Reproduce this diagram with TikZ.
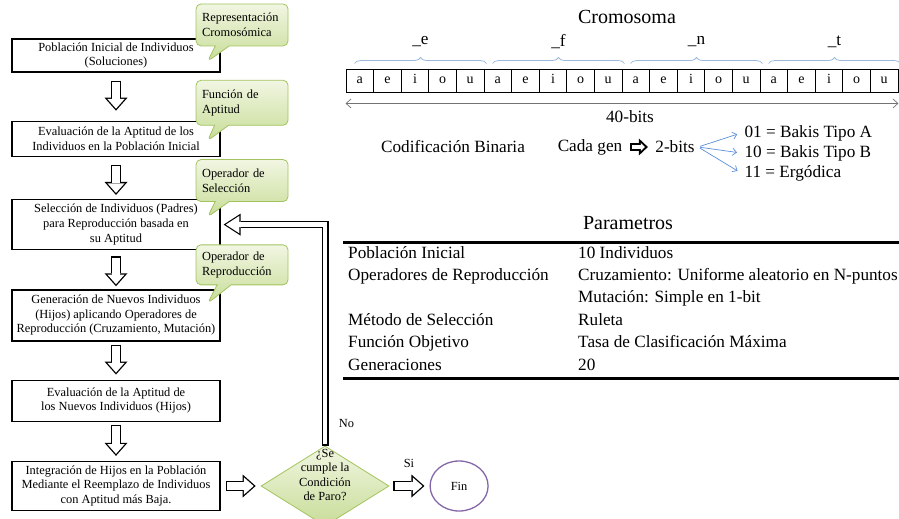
\documentclass[tikz,border=0pt]{standalone}
\usepackage{fontspec}
\setmainfont{Liberation Serif}
\usetikzlibrary{positioning,calc,arrows.meta,shapes.geometric,shapes.callouts,decorations.pathreplacing}

\definecolor{notedraw}{HTML}{A3C35F}
\definecolor{notetop}{HTML}{F1F6E2}
\definecolor{notebot}{HTML}{C8DD98}
\definecolor{bracecol}{HTML}{9CB8DB}
\definecolor{fincol}{HTML}{8566A8}
\definecolor{fancol}{HTML}{5A8ED8}

\newcommand{\smallfnt}{\fontsize{12.4}{14.6}\selectfont}
\newcommand{\midfnt}{\fontsize{17.2}{20}\selectfont}
\newcommand{\bigfnt}{\fontsize{20}{24}\selectfont}
\newcommand{\cellfnt}{\fontsize{14}{16}\selectfont}

\begin{document}
\begin{tikzpicture}[x=1pt,y=1pt,node distance=40pt,
        proc/.style={draw,line width=1.3pt,minimum width=208pt,inner sep=2pt,align=center,font=\smallfnt},
        note/.style={rectangle callout,draw=notedraw,line width=0.8pt,top color=notetop,bottom color=notebot,
          rounded corners=5pt,text width=80pt,inner sep=6pt,minimum height=42pt,align=left,font=\smallfnt,
          callout pointer width=14pt},
        cond/.style={diamond,draw=notedraw,line width=0.8pt,top color=notetop,bottom color=notebot,
          minimum width=128pt,minimum height=80pt,inner sep=0pt},
        fin/.style={ellipse,draw=fincol,line width=1.3pt,minimum width=58pt,minimum height=50pt,inner sep=0pt,font=\smallfnt},
        blk/.style={line width=10pt,-{Triangle[length=13pt,width=23pt,line width=0pt]},
          postaction={draw=white,line width=7.4pt,shorten <=1.3pt,shorten >=1.96pt,
            -{Triangle[length=9.74pt,width=17.2pt,line width=0pt]}}},
        fb/.style={line width=7pt,-{Triangle[length=17pt,width=22pt,line width=0pt]},
          postaction={draw=white,line width=4.6pt,shorten <=1.2pt,shorten >=2.2pt,
            -{Triangle[length=13.6pt,width=17.6pt,line width=0pt]}}},
        blksm/.style={line width=8pt,-{Triangle[length=9pt,width=17pt,line width=0pt]},
          postaction={draw=white,line width=4pt,shorten <=2pt,shorten >=2.9pt,
            -{Triangle[length=4.1pt,width=7.7pt,line width=0pt]}}},
        cell/.style={draw,line width=0.9pt,minimum width=27.6pt,minimum height=23pt,inner sep=0pt,
          text height=6.5pt,text depth=0pt,font=\cellfnt},
        brc/.style={draw=bracecol,line width=0.8pt,decorate,decoration={brace,amplitude=6pt,raise=5pt}},
        dim/.style={draw=black!55,line width=0.7pt,{Straight Barb[length=5pt,width=9pt]}-{Straight Barb[length=5pt,width=9pt]}},
        fan/.style={draw=fancol,line width=0.7pt,-{Straight Barb[length=4pt,width=7pt]},shorten <=2pt,shorten >=4pt},
        row/.style={anchor=base west,inner sep=0pt,font=\midfnt}]

        \useasboundingbox (0,0) rectangle (899,-519);

        % flujo del algoritmo
        \node[proc,minimum height=33pt] (b1) at (116,-55.5) {Población Inicial de Individuos\\(Soluciones)};
        \node[proc,minimum height=35pt] (b2) [below=48pt of b1] {Evaluación de la Aptitud de los\\Individuos en la Población Inicial};
        \node[proc,minimum height=50pt] (b3) [below=42pt of b2] {Selección de Individuos (Padres)\\para Reproducción basada en\\su Aptitud};
        \node[proc,minimum height=51pt] (b4) [below=39pt of b3] {Generación de Nuevos Individuos\\(Hijos) aplicando Operadores de\\Reproducción (Cruzamiento, Mutación)};
        \node[proc,minimum height=41pt] (b5) [below=38pt of b4] {Evaluación de la Aptitud de\\los Nuevos Individuos (Hijos)};
        \node[proc,minimum height=49pt] (b6) [below=39pt of b5] {Integración de Hijos en la Población\\Mediante el Reemplazo de Individuos\\con Aptitud más Baja.};

        \node[cond] (dia) [right=40pt of b6] {};
        \node[font=\smallfnt,align=center] (q) at (dia.center) [yshift=11pt] {¿Se\\cumple la\\Condición\\de Paro?};
        \node[fin] (fn) [right=40pt of dia] {Fin};

        % notas
        \node[note,anchor=south west,callout absolute pointer={($(b1.north east)+(-13,-23)$)}] (n1)
          at ($(b1.north east)+(-25,-8)$) {Representación\\Cromosómica};
        \node[note,anchor=south west,minimum height=45pt,callout absolute pointer={($(b2.north east)+(-13,-20)$)}] (n2)
          at ($(b2.north east)+(-25,-5)$) {Función de\\Aptitud};
        \node[note,anchor=south west,callout absolute pointer={($(b3.north east)+(-13,-18)$)}] (n3)
          at ($(b3.north east)+(-25,-3)$) {Operador de\\Selección};
        \node[note,anchor=south west,minimum height=40pt,callout absolute pointer={($(b4.north east)+(-13,-14)$)}] (n4)
          at ($(b4.north east)+(-25,4)$) {Operador de\\Reproducción};

        \draw[blk] ($(b1.south)+(0,-8)$) -- ($(b2.north)+(0,10)$);
        \draw[blk] ($(b2.south)+(0,-8)$) -- ($(b3.north)+(0,4)$);
        \draw[blk] ($(b3.south)+(0,-6)$) -- ($(b4.north)+(0,3)$);
        \draw[blk] ($(b4.south)+(0,-3)$) -- ($(b5.north)+(0,5)$);
        \draw[blk] ($(b5.south)+(0,-3)$) -- ($(b6.north)+(0,5)$);
        \draw[blk] ($(b6.east)+(5,0)$) -- ($(dia.west)+(-5,0)$);
        \draw[blk] ($(dia.east)+(4,0)$) -- node[above=10pt,font=\smallfnt] {Si} ($(fn.west)+(-5,0)$);
        \draw[fb] (dia.north) |- node[pos=0.05,right=7pt,font=\smallfnt] {No} ($(b3.east)+(3,0)$);

        % cromosoma
        \node[font=\bigfnt] (crom) at (627,-17) {Cromosoma};
        \foreach \l [count=\i from 0] in {a,e,i,o,u,a,e,i,o,u,a,e,i,o,u,a,e,i,o,u}
          \node[cell] (c\i) at (359.8+27.6*\i,-80.5) {\l};
        \foreach \g/\lab in {0/e,5/f,10/n,15/t} {
          \pgfmathtruncatemacro\h{\g+4}
          \draw[brc] ($(c\g.north west)+(9,0)$) -- node[yshift=27pt,font=\midfnt] {\_\lab} ($(c\h.north east)+(2,0)$);
        }
        \draw[dim] ($(c0.south west)+(0,-11)$) -- node[below=3pt,xshift=8pt,font=\midfnt] {40-bits} ($(c19.south east)+(0,-11)$);

        \node[font=\midfnt] (cod) at (453,-147) {Codificación Binaria};
        \node[font=\midfnt] (cg) at (590,-147) {Cada gen};
        \node[font=\midfnt] (tb) at (675,-147) {2-bits};
        \node[font=\midfnt,anchor=west] (v01) at (741,-133) {01 = Bakis Tipo A};
        \node[font=\midfnt,anchor=west] (v10) at (741,-153) {10 = Bakis Tipo B};
        \node[font=\midfnt,anchor=west] (v11) at (741,-173) {11 = Ergódica};
        \draw[blksm] ($(cg.east)+(4,0)$) -- ($(tb.west)+(-4,0)$);
        \draw[fan] (tb.east) -- (v01.west);
        \draw[fan] (tb.east) -- (v10.west);
        \draw[fan] (tb.east) -- (v11.west);

        % parametros
        \node[font=\bigfnt] (par) at (628,-223) {Parametros};
        \draw[line width=3pt] (343,-242) -- (899,-242);
        \node[row] (r1) at (348,-258) {Población Inicial};
        \node[row] (w1) at (578,-258) {10 Individuos};
        \node[row] (r2) at (348,-280.4) {Operadores de Reproducción};
        \node[row] (w2) at (578,-280.4) {Cruzamiento: Uniforme aleatorio en N-puntos};
        \node[row] (w3) at (578,-302.8) {Mutación: Simple en 1-bit};
        \node[row] (r4) at (348,-325.2) {Método de Selección};
        \node[row] (w4) at (578,-325.2) {Ruleta};
        \node[row] (r5) at (348,-347.6) {Función Objetivo};
        \node[row] (w5) at (578,-347.6) {Tasa de Clasificación Máxima};
        \node[row] (r6) at (348,-370) {Generaciones};
        \node[row] (w6) at (578,-370) {20};
        \draw[line width=3pt] (343,-378) -- (899,-378);

      \end{tikzpicture}
\end{document}
